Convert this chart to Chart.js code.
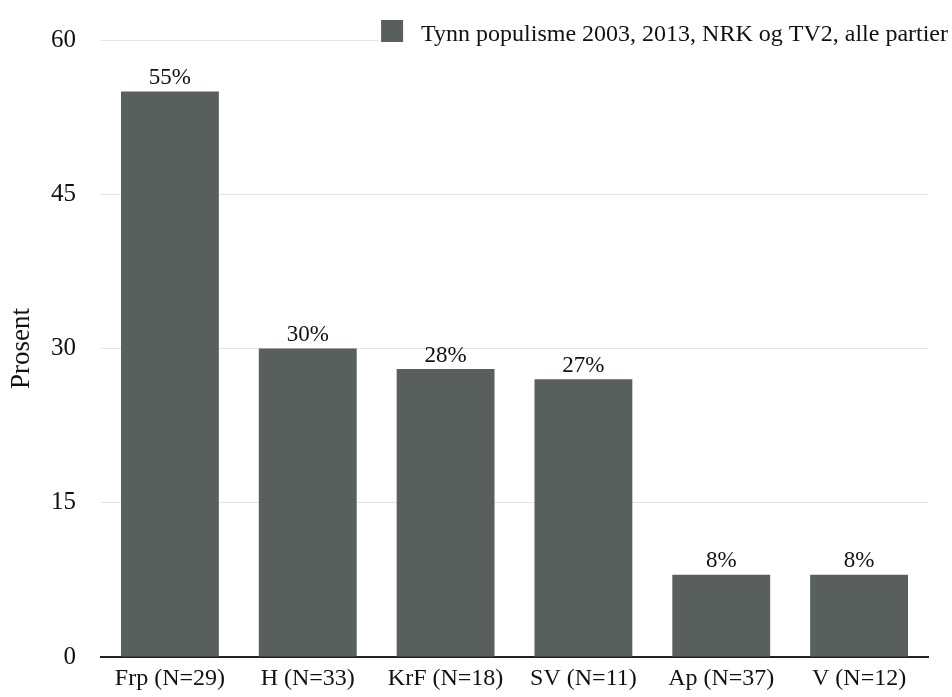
<!DOCTYPE html>
<html>
<head>
<meta charset="utf-8">
<script src="https://cdn.jsdelivr.net/npm/chart.js@4.4.1/dist/chart.umd.min.js"></script>
<style>
html,body{margin:0;padding:0;background:#fff;}
#wrap{width:952px;height:697px;}
</style>
</head>
<body>
<div id="wrap"><canvas id="c" width="952" height="697"></canvas></div>
<script>
const categories = ["Frp (N=29)", "H (N=33)", "KrF (N=18)", "SV (N=11)", "Ap (N=37)", "V (N=12)"];
const values = [55, 30, 28, 27, 8, 8];
const seriesLabel = "Tynn populisme 2003, 2013, NRK og TV2, alle partier";
const yTicks = [0, 15, 30, 45, 60];
const yTitle = "Prosent";

const FONT = "'Liberation Serif', 'Times New Roman', serif";
const BAR = '#585f5c';

const valueLabels = {
  id: 'valueLabels',
  afterDatasetsDraw(chart) {
    const ctx = chart.ctx;
    const meta = chart.getDatasetMeta(0);
    ctx.save();
    ctx.font = "23px " + FONT;
    ctx.fillStyle = '#111';
    ctx.textAlign = 'center';
    ctx.textBaseline = 'bottom';
    meta.data.forEach((bar, i) => {
      ctx.fillText(values[i] + '%', bar.x, bar.y - 2);
    });
    ctx.restore();
  }
};

const customLegend = {
  id: 'customLegend',
  afterDraw(chart) {
    const ctx = chart.ctx;
    const ds = chart.data.datasets[0];
    ctx.save();
    ctx.font = "24px " + FONT;
    const tw = ctx.measureText(ds.label).width;
    const textRight = 948;
    const textLeft = textRight - tw;
    const boxSize = 22;
    const boxRight = textLeft - 18;
    const boxLeft = boxRight - boxSize;
    ctx.fillStyle = '#fff';
    ctx.fillRect(boxLeft - 2, 18, chart.width - boxLeft + 2, 28);
    ctx.fillStyle = ds.backgroundColor;
    ctx.fillRect(boxLeft, 20, boxSize, boxSize);
    ctx.fillStyle = '#111';
    ctx.textAlign = 'left';
    ctx.textBaseline = 'middle';
    ctx.fillText(ds.label, textLeft, 35);
    ctx.restore();
  }
};

new Chart(document.getElementById('c'), {
  type: 'bar',
  data: {
    labels: categories,
    datasets: [{
      label: seriesLabel,
      data: values,
      backgroundColor: BAR,
      borderWidth: 0,
      barPercentage: 0.71,
      categoryPercentage: 1.0
    }]
  },
  options: {
    responsive: false,
    animation: false,
    layout: { padding: { left: 0, right: 24, top: 40, bottom: 0 } },
    plugins: {
      legend: { display: false },
      tooltip: { enabled: false }
    },
    scales: {
      x: {
        grid: { display: false, drawTicks: false },
        border: { display: true, color: '#222', width: 2 },
        ticks: { font: { family: FONT, size: 24 }, color: '#111', padding: 7, maxRotation: 0 },
        afterFit(scale) { scale.height = 39; }
      },
      y: {
        min: 0,
        max: 60,
        afterBuildTicks(scale) { scale.ticks = yTicks.map(v => ({ value: v })); },
        afterFit(scale) { scale.width = 101; },
        grid: { color: '#e4e4e4', lineWidth: 1, drawTicks: false },
        border: { display: false },
        ticks: { font: { family: FONT, size: 25 }, color: '#111', padding: 25 },
        title: { display: true, text: yTitle, font: { family: FONT, size: 27 }, color: '#111', padding: { top: 6, bottom: 0 } }
      }
    }
  },
  plugins: [valueLabels, customLegend]
});
</script>
</body>
</html>
